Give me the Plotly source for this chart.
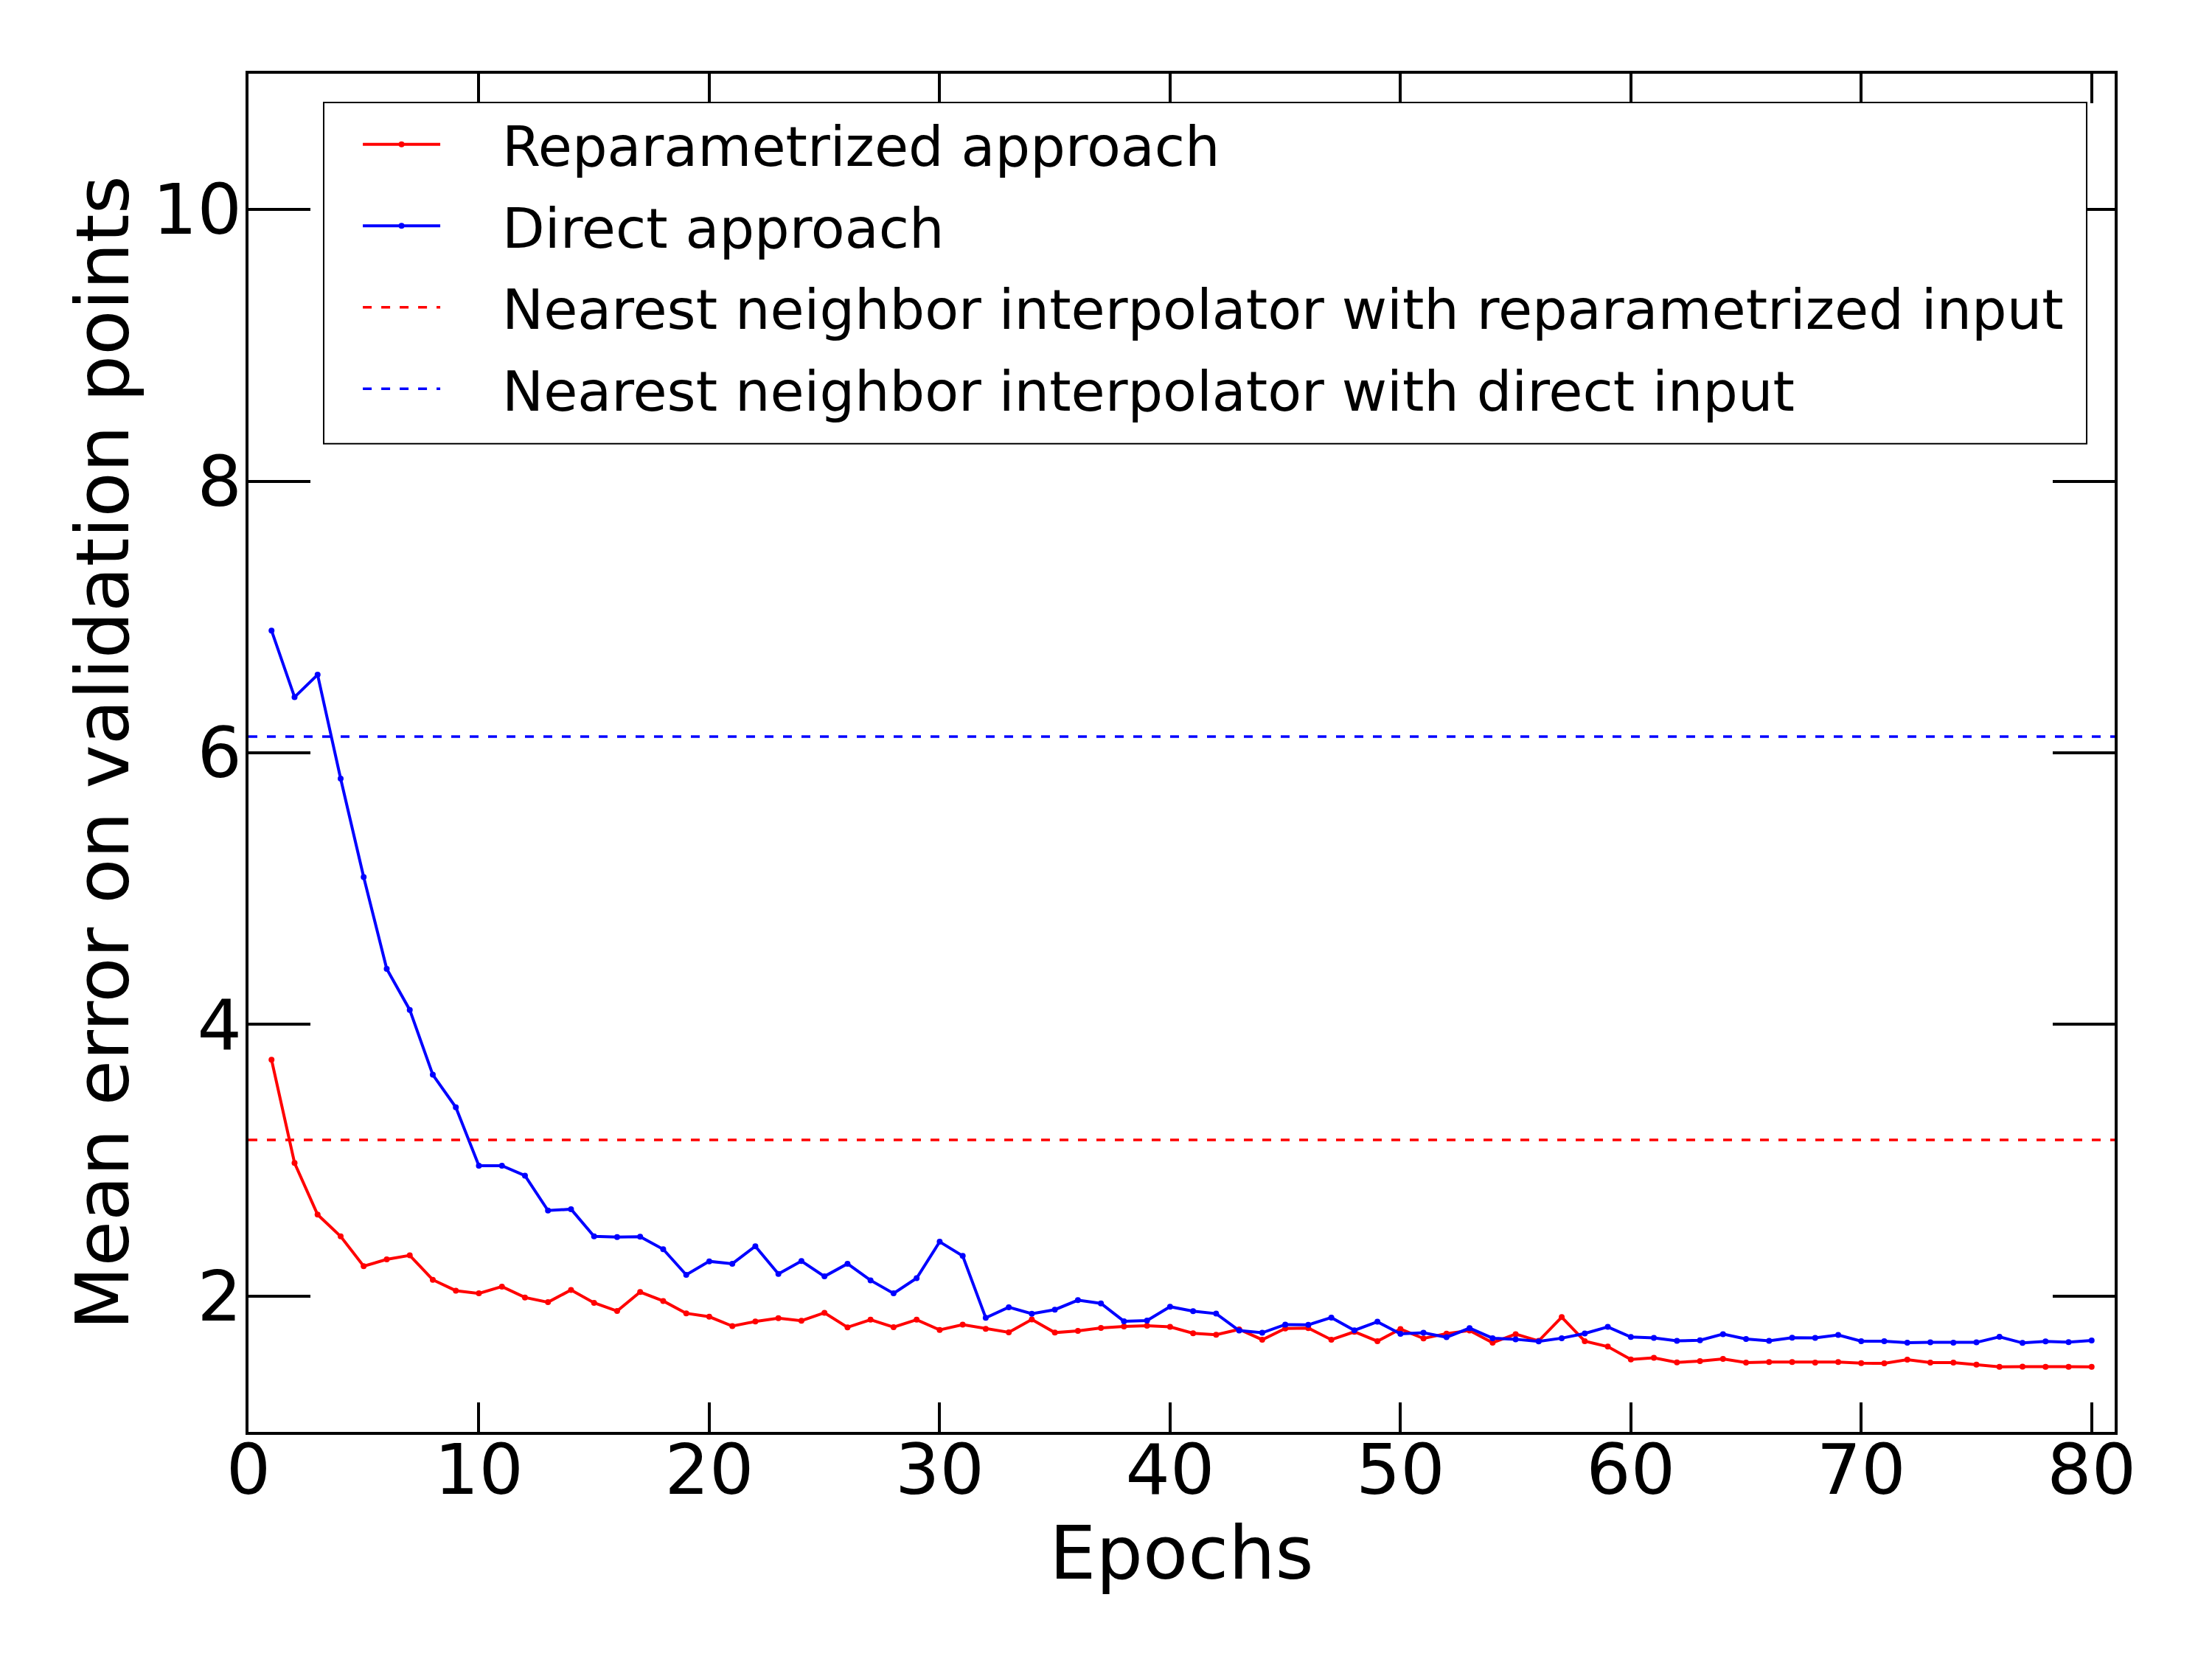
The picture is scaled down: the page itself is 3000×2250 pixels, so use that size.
import plotly.graph_objects as go

epochs = list(range(1, 81))

reparam_err = [
    3.74, 2.98, 2.60, 2.44, 2.22, 2.27, 2.30, 2.12, 2.04, 2.02,
    2.07, 1.99, 1.955, 2.045, 1.95, 1.89, 2.03, 1.964, 1.873, 1.848,
    1.779, 1.813, 1.837, 1.819, 1.877, 1.77, 1.826, 1.771, 1.826, 1.751,
    1.79, 1.759, 1.733, 1.828, 1.731, 1.744, 1.766, 1.777, 1.782, 1.773,
    1.726, 1.715, 1.755, 1.679, 1.762, 1.764, 1.679, 1.737, 1.668, 1.757,
    1.688, 1.724, 1.746, 1.657, 1.72, 1.67, 1.845, 1.668, 1.628, 1.534,
    1.545, 1.512, 1.521, 1.537, 1.51, 1.515, 1.514, 1.51, 1.514, 1.506,
    1.505, 1.532, 1.51, 1.51, 1.495, 1.479, 1.481, 1.479, 1.479, 1.479,
]

direct_err = [
    6.90, 6.41, 6.575, 5.81, 5.085, 4.41, 4.107, 3.63, 3.39, 2.96,
    2.96, 2.887, 2.63, 2.64, 2.44, 2.435, 2.437, 2.345, 2.156, 2.256,
    2.238, 2.367, 2.163, 2.258, 2.145, 2.238, 2.116, 2.02, 2.132, 2.40,
    2.296, 1.84, 1.918, 1.87, 1.90, 1.97, 1.946, 1.815, 1.82, 1.922,
    1.889, 1.871, 1.746, 1.73, 1.79, 1.788, 1.842, 1.748, 1.811, 1.722,
    1.73, 1.697, 1.764, 1.69, 1.682, 1.666, 1.69, 1.725, 1.773, 1.699,
    1.692, 1.67, 1.675, 1.72, 1.684, 1.67, 1.693, 1.692, 1.714, 1.668,
    1.668, 1.657, 1.659, 1.657, 1.659, 1.70, 1.655, 1.666, 1.661, 1.673,
]

nn_reparam = 3.15
nn_direct = 6.12

x_range = [0, 81]
y_range = [1, 11]
x_ticks = [0, 10, 20, 30, 40, 50, 60, 70, 80]
y_ticks = [2, 4, 6, 8, 10]

names = [
    "Reparametrized approach",
    "Direct approach",
    "Nearest neighbor interpolator with reparametrized input",
    "Nearest neighbor interpolator with direct input",
]

FONT = "DejaVu Sans"
PAD = "\u00a0\u00a0\u00a0\u200a"  # gap between legend sample and its text

fig = go.Figure()
fig.add_trace(go.Scatter(
    x=epochs, y=reparam_err, mode="lines+markers", name=PAD + names[0], legendgroup="a",
    line=dict(color="#ff0000", width=4), marker=dict(color="#ff0000", size=8),
))
fig.add_trace(go.Scatter(
    x=epochs, y=direct_err, mode="lines+markers", name=PAD + names[1], legendgroup="b",
    line=dict(color="#0000ff", width=4), marker=dict(color="#0000ff", size=8),
))
fig.add_trace(go.Scatter(
    x=x_range, y=[nn_reparam, nn_reparam], mode="lines", name=PAD + names[2], legendgroup="c",
    line=dict(color="#ff0000", width=3.5, dash="12px,13px"),
))
fig.add_trace(go.Scatter(
    x=x_range, y=[nn_direct, nn_direct], mode="lines", name=PAD + names[3], legendgroup="d",
    line=dict(color="#0000ff", width=3.5, dash="12px,13px"),
))

axis_common = dict(
    showgrid=False, zeroline=False,
    showline=True, linecolor="black", linewidth=4, mirror="ticks",
    ticks="inside", tickwidth=3.5, tickcolor="black",
    tickfont=dict(family=FONT, size=95, color="black"),
)

fig.update_xaxes(
    range=x_range, tickvals=x_ticks, ticklen=40, ticklabelstandoff=-34,
    title=dict(text="Epochs", font=dict(family=FONT, size=100, color="black"), standoff=0),
    **axis_common,
)
fig.update_yaxes(
    range=y_range, tickvals=y_ticks, ticklen=84, ticklabelstandoff=-14,
    title=dict(text="Mean error on validation points", font=dict(family=FONT, size=100, color="black"), standoff=0),
    **axis_common,
)

# legend frame (white box covering the top ticks, like the reference)
fig.add_shape(
    type="rect", xref="paper", yref="paper",
    x0=0.0403, x1=0.985, y0=0.7276, y1=0.9788,
    line=dict(color="black", width=2), fillcolor="white", layer="above",
)

fig.update_layout(
    width=3000, height=2250,
    margin=dict(l=337, r=132, t=100, b=308),
    paper_bgcolor="white", plot_bgcolor="white",
    font=dict(family=FONT, color="black"),
    showlegend=True,
    legend=dict(
        x=0.0593, y=0.978, xanchor="left", yanchor="top",
        bgcolor="rgba(0,0,0,0)", borderwidth=0,
        font=dict(family=FONT, size=75, color="black"),
        itemwidth=105, tracegroupgap=10,
    ),
)

fig.write_html("out.html")
